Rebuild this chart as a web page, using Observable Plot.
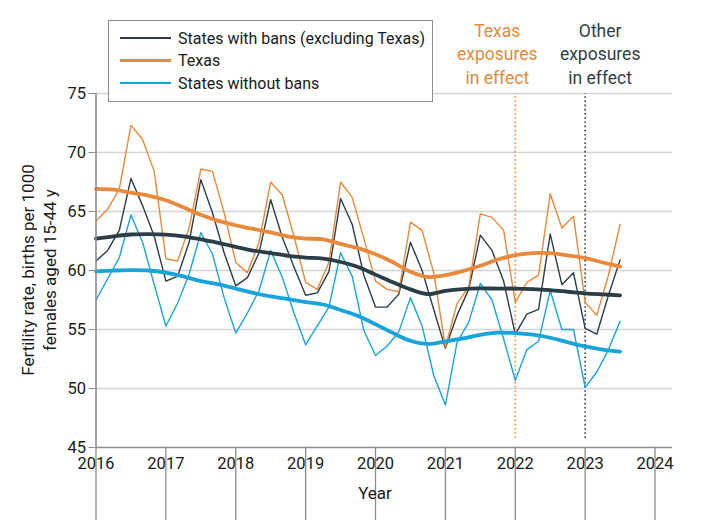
<!DOCTYPE html>
<html><head><meta charset="utf-8">
<script src="https://cdn.jsdelivr.net/npm/d3@7"></script>
<script src="https://cdn.jsdelivr.net/npm/@observablehq/plot@0.6"></script>
<style>
html,body{margin:0;padding:0;background:#fff;}
#wrap{position:relative;width:720px;height:520px;font-family:Roboto,"Noto Sans",sans-serif;}
#legend{position:absolute;left:108px;top:20px;width:325px;height:82px;border:1px solid #8c8c8c;box-sizing:border-box;background:#fff;}
.row{position:absolute;left:11px;height:22px;display:flex;align-items:center;font-size:16px;color:#1a1a1a;white-space:nowrap;}
.sw{width:51px;height:2.5px;margin-right:7px;}
</style>
</head><body>
<div id="wrap"><div id="chart"></div><div id="legend"></div></div>
<script>
// ---- data (bimonthly observed rates, 6 per year from 2016) ----
const startYear = 2016;
const obsPerYear = 6;
const seriesNames = ["States with bans (excluding Texas)", "Texas", "States without bans"];
const seriesColors = ["#2b3d47", "#e8893b", "#19a3db"];

const bansRate = [60.8, 61.7, 63.4, 67.8, 65.5, 62.9, 59.1, 59.5, 62.4, 67.7, 64.9, 61.5, 58.7, 59.4, 61.5, 66.0, 62.8, 60.3, 57.9, 58.1, 59.9, 66.1, 63.9, 59.6, 56.9, 56.9, 58.0, 62.4, 60.0, 56.7, 53.4, 56.2, 58.4, 63.0, 61.7, 59.1, 54.6, 56.3, 56.7, 63.1, 58.8, 59.8, 55.1, 54.6, 57.9, 60.9];
const texasRate = [64.2, 65.2, 66.9, 72.3, 71.1, 68.4, 61.0, 60.8, 63.6, 68.6, 68.4, 64.9, 60.7, 59.8, 62.4, 67.5, 66.4, 62.9, 59.0, 58.4, 60.7, 67.5, 66.2, 62.7, 59.1, 58.4, 58.2, 64.1, 63.4, 59.8, 53.5, 57.2, 58.6, 64.8, 64.5, 63.4, 57.3, 59.0, 59.6, 66.5, 63.6, 64.6, 57.3, 56.2, 59.6, 63.9];
const noBansRate = [57.5, 59.3, 61.1, 64.7, 62.4, 58.8, 55.3, 57.2, 59.7, 63.2, 61.4, 57.7, 54.7, 56.4, 58.3, 61.7, 59.4, 56.4, 53.7, 55.3, 56.9, 61.5, 59.5, 54.9, 52.8, 53.6, 54.8, 57.7, 55.3, 51.1, 48.6, 53.9, 55.6, 58.9, 57.5, 54.2, 50.7, 53.3, 54.0, 58.3, 55.0, 55.0, 50.1, 51.4, 53.3, 55.7];

// ---- smoothed trends (quarterly readings, 4 per year from 2016) ----
const trendPerYear = 4;
const bansTrend = [62.7, 62.9, 63.05, 63.08, 63.04, 62.9, 62.63, 62.35, 62.0, 61.69, 61.48, 61.24, 61.1, 61.0, 60.72, 60.3, 59.65, 59.0, 58.4, 58.0, 58.28, 58.43, 58.48, 58.47, 58.47, 58.42, 58.33, 58.2, 58.07, 57.98, 57.9];
const texasTrend = [66.92, 66.85, 66.6, 66.35, 65.95, 65.35, 64.72, 64.2, 63.83, 63.52, 63.23, 62.88, 62.71, 62.64, 62.25, 61.9, 61.38, 60.7, 59.9, 59.45, 59.6, 59.95, 60.4, 60.93, 61.3, 61.48, 61.47, 61.28, 61.05, 60.68, 60.33];
const noBansTrend = [59.93, 59.99, 60.03, 60.0, 59.82, 59.5, 59.1, 58.82, 58.47, 58.1, 57.8, 57.57, 57.33, 57.12, 56.65, 56.15, 55.45, 54.7, 54.05, 53.78, 54.0, 54.25, 54.55, 54.73, 54.7, 54.57, 54.3, 53.92, 53.57, 53.3, 53.13];

const xTicks = [2016, 2017, 2018, 2019, 2020, 2021, 2022, 2023, 2024];
const yTicks = [45, 50, 55, 60, 65, 70, 75];
const events = [
  {year: 2022, text: "Texas\nexposures\nin effect", color: "#e08a3c"},
  {year: 2023, text: "Other\nexposures\nin effect", color: "#2f3f4a"}
];

const obsSets = [bansRate, texasRate, noBansRate];
const trendSets = [bansTrend, texasTrend, noBansTrend];
const obs = obsSets.flatMap((arr, s) => arr.map((v, i) => ({series: seriesNames[s], x: startYear + i / obsPerYear, y: v})));
const trend = trendSets.flatMap((arr, s) => arr.map((v, i) => ({series: seriesNames[s], x: startYear + i / trendPerYear, y: v})));

const chart = Plot.plot({
  width: 720, height: 520,
  marginLeft: 95.5, marginRight: 48, marginTop: 93, marginBottom: 73,
  style: {fontFamily: "Roboto, 'Noto Sans', sans-serif", fontSize: "16px", color: "#1a1a1a", background: "#fff"},
  x: {domain: [2016, 2024.25], label: null},
  y: {domain: [45, 75], label: null},
  color: {domain: seriesNames, range: seriesColors},
  marks: [
    Plot.gridY(yTicks.filter(d => d > 45), {stroke: "#d4d4d4", strokeOpacity: 1, strokeWidth: 1.6}),
    Plot.ruleX(events, {x: "year", y1: 45, y2: 75, insetTop: -9, stroke: "color", strokeWidth: 1.6, strokeDasharray: "1.6,2.6"}),
    Plot.line(obs, {x: "x", y: "y", z: "series", stroke: "series", strokeWidth: 1.4}),
    Plot.line(trend, {x: "x", y: "y", z: "series", stroke: "series", strokeWidth: 3.8, curve: "catmull-rom"}),
    Plot.ruleY([45], {stroke: "#8c8c8c", strokeWidth: 1.6}),
    Plot.ruleX([2016], {y1: 45, y2: 75, stroke: "#8c8c8c", strokeWidth: 1.6}),
    Plot.ruleX(xTicks, {x: d => d, y: 45, insetTop: -4, stroke: "#8c8c8c", strokeWidth: 1.3}),
    Plot.axisY({ticks: yTicks, tickSize: 7, tickPadding: 3, fontSize: 16.5, stroke: "#8c8c8c", label: null}),
    Plot.axisX({ticks: xTicks, tickSize: 0, tickPadding: 10, fontSize: 16.5, tickFormat: d => String(d), label: null}),
    Plot.text(events.slice(0,1), {x: "year", y: 75, text: "text", fill: "color", dx: -18, dy: -10, lineAnchor: "bottom", lineHeight: 1.32, fontSize: 17.5}),
    Plot.text(events.slice(1), {x: "year", y: 75, text: "text", fill: "color", dx: 15, dy: -10, lineAnchor: "bottom", lineHeight: 1.32, fontSize: 17.5})
  ]
});
document.getElementById("chart").appendChild(chart);

// axis titles
const svg = d3.select(chart);
const yl = svg.append("text")
  .attr("transform", "translate(40,270) rotate(-90)")
  .attr("text-anchor", "middle")
  .style("font-size", "17px").style("fill", "#1a1a1a");
yl.append("tspan").attr("x", 0).attr("dy", "-0.35em").text("Fertility rate, births per 1000");
yl.append("tspan").attr("x", 0).attr("dy", "1.3em").text("females aged 15-44 y");
svg.append("text").attr("x", 375).attr("y", 499).attr("text-anchor", "middle")
  .style("font-size", "17px").style("fill", "#1a1a1a").text("Year");

// legend
const lg = document.getElementById("legend");
seriesNames.forEach((name, i) => {
  const r = document.createElement("div");
  r.className = "row";
  r.style.top = (6 + i * 22.6) + "px";
  const sw = document.createElement("div");
  sw.className = "sw"; sw.style.background = seriesColors[i];
  const t = document.createElement("span"); t.textContent = name;
  r.appendChild(sw); r.appendChild(t); lg.appendChild(r);
});
</script>
</body></html>
